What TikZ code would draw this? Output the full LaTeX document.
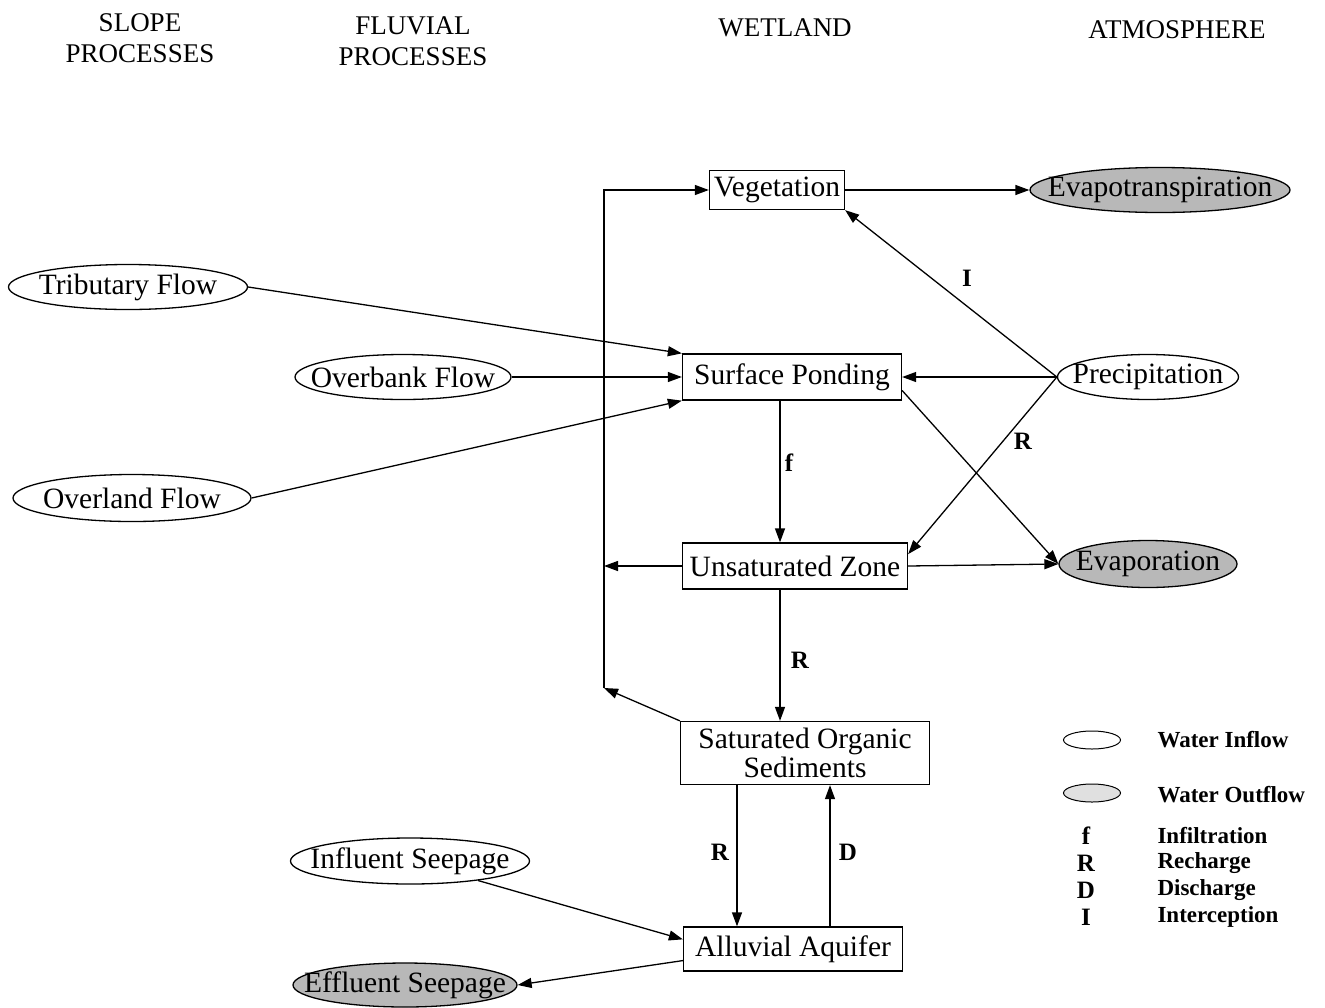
\documentclass[tikz,border=0pt]{standalone}
\usepackage{fontspec}
\setmainfont{Liberation Serif}
\usetikzlibrary{arrows.meta,shapes.geometric}

\newcommand\boxfont{\fontsize{29.5}{29.5}\selectfont}
\newcommand\headfont{\fontsize{27}{31}\selectfont}
\newcommand\keyfont{\fontsize{23}{27}\selectfont\bfseries}
\newcommand\letterfont{\fontsize{25}{27}\selectfont\bfseries}

\begin{document}
\begin{tikzpicture}[x=1pt,y=-1pt,
  every node/.style={font=\boxfont},
  wbox/.style={draw, rectangle, line width=1.3pt, inner sep=0pt, align=center},
  inflow/.style={draw, ellipse, line width=1.3pt, inner sep=0pt},
  outflow/.style={inflow, fill=black!28},
  flow/.style={line width=1.3pt, -{Triangle[length=14pt,width=10pt]}},
  tag/.style={font=\letterfont},
  keytext/.style={font=\keyfont, anchor=west},
  head/.style={font=\headfont, align=center}
]
\useasboundingbox (0,0) rectangle (1325,1007);

% column headings
\node[head] (hslope) at (140,38) {SLOPE\\PROCESSES};
\node[head] (hfluv)  at (413,41) {FLUVIAL\\PROCESSES};
\node[head] (hwet)   at (785,28) {WETLAND};
\node[head] (hatm)   at (1177,30) {ATMOSPHERE};

% wetland compartments
\node[wbox, minimum width=135, minimum height=39] (veg) at (777,190) {Vegetation};
\node[wbox, minimum width=219, minimum height=46] (sp)  at (792,377) {Surface Ponding};
\node[wbox, minimum width=225, minimum height=46] (uz)  at (795,566) {Unsaturated Zone};
\node[wbox, minimum width=249, minimum height=63] (so)  at (805,753) {Saturated Organic\\Sediments};
\node[wbox, minimum width=219, minimum height=44] (aa)  at (793,949) {Alluvial Aquifer};

% inflows: the ellipse outline first, its label on top
\node[inflow, minimum width=239, minimum height=45] (trib) at (128,287) {};
\node (tribt) at (trib) {Tributary Flow};
\node[inflow, minimum width=216, minimum height=45] (over) at (403,377) {};
\node (overt) at (over) {Overbank Flow};
\node[inflow, minimum width=238, minimum height=47] (land) at (132,498) {};
\node (landt) at (land) {Overland Flow};
\node[inflow, minimum width=181, minimum height=45] (prec) at (1148,377) {};
\node (prect) at (prec) {Precipitation};
\node[inflow, minimum width=239, minimum height=46] (infl) at (410,861) {};
\node (inflt) at (infl) {Influent Seepage};

% outflows
\node[outflow, minimum width=260, minimum height=45] (evt) at (1160,190) {};
\node (evtt) at (evt) {Evapotranspiration};
\node[outflow, minimum width=178, minimum height=47] (evp) at (1148,564) {};
\node (evpt) at (evp) {Evaporation};
\node[outflow, minimum width=224, minimum height=44] (effl) at (405,985) {};
\node (efflt) at (effl) {Effluent Seepage};

% return path on the left of the wetland column
\coordinate (lt) at (604,190);
\coordinate (lm) at (604,566);
\coordinate (lb) at (604,688);
\draw[flow] (lb) -- (lt) -- (veg.west);
\draw[flow] (uz.west) -- (lm);
\draw[flow] (so.north west) -- (lb);

% fluxes
\draw[flow] (veg.east) -- (evt.west);
\draw[flow] (prec.west) -- (veg.south east);
\draw[flow] (trib.east) -- (sp.north west);
\draw[flow] (over.east) -- (sp.west);
\draw[flow] (land.east) -- (sp.south west);
\draw[flow] (prec.west) -- (sp.east);
\draw[flow] (prec.west) -- (uz.6);
\draw[flow] (sp.-7) -- (evp.west);
\draw[flow] (uz.east) -- (evp.west);
\draw[flow] ([xshift=-12pt]sp.south) -- ([xshift=-15pt]uz.north);
\draw[flow] ([xshift=-15pt]uz.south) -- ([xshift=-25pt]so.north);
\draw[flow] ([xshift=-68pt]so.south) -- ([xshift=-56pt]aa.north);
\draw[flow] ([xshift=37pt]aa.north) -- ([xshift=25pt]so.south);
\draw[flow] (infl.-16) -- (aa.175);
\draw[flow] (aa.186) -- (effl.east);

% flux letters
\node[tag] (li)  at (967,278) {I};
\node[tag] (lr1) at (1023,441) {R};
\node[tag] (lf)  at (789,463) {f};
\node[tag] (lr2) at (800,660) {R};
\node[tag] (lr3) at (720,852) {R};
\node[tag] (ld)  at (848,852) {D};

% key
\node[inflow, minimum width=57, minimum height=18, line width=1pt] (kin) at (1092,740) {};
\node[outflow, minimum width=57, minimum height=18, line width=1pt, fill=black!12] (kout) at (1092,793) {};
\node[keytext] (tin)  at (1154,740) {Water Inflow};
\node[keytext] (tout) at (1154,795) {Water Outflow};
\node[tag] (kf) at (1086,836) {f};
\node[tag] (kr) at (1086,863) {R};
\node[tag] (kd) at (1086,890) {D};
\node[tag] (ki) at (1086,917) {I};
\node[keytext] (tf) at (1154,836) {Infiltration};
\node[keytext] (tr) at (1154,863) {Recharge};
\node[keytext] (td) at (1154,890) {Discharge};
\node[keytext] (ti) at (1154,917) {Interception};
\end{tikzpicture}
\end{document}
